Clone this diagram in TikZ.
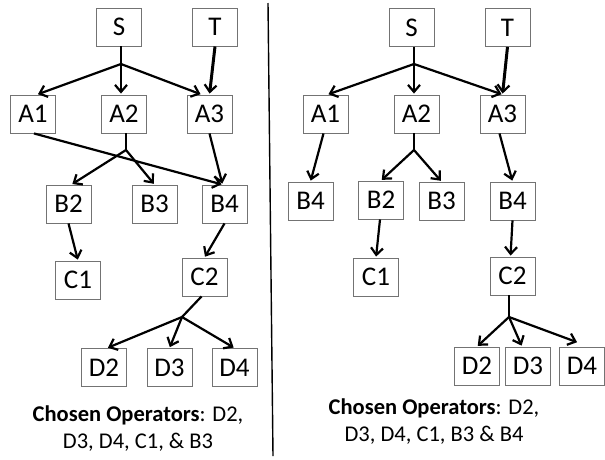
\documentclass[tikz,border=0pt]{standalone}
\usepackage{fontspec}
\setmainfont{Carlito}
\usetikzlibrary{arrows.meta,calc}

\begin{document}
\begin{tikzpicture}[x=1pt,y=-1pt,
  >={Straight Barb[length=7pt,width=12pt,line width=2.2pt]},
  line width=2.2pt,
  op node/.style={rectangle,draw=black!55,line width=0.9pt,minimum width=45pt,minimum height=38pt,
    inner sep=0pt,font=\fontsize{27}{30}\selectfont},
  caption/.style={align=center,font=\fontsize{22.5}{27}\selectfont},
  link/.style={->,shorten >=1pt}]

\useasboundingbox (0,0) rectangle (605,459);

% left plan
\node[op node] (lS) at (119,27) {S};
\node[op node] (lT) at (215,27) {T};
\node[op node] (lA1) at (33,114) {A1};
\node[op node] (lA2) at (124,114) {A2};
\node[op node] (lA3) at (209.5,114) {A3};
\node[op node] (lB2) at (68.5,204) {B2};
\node[op node] (lB3) at (154.5,204) {B3};
\node[op node] (lB4) at (224.5,204) {B4};
\node[op node] (lC1) at (78,280) {C1};
\node[op node] (lC2) at (204.5,277) {C2};
\node[op node] (lD2) at (104,367.5) {D2};
\node[op node] (lD3) at (169.5,367.5) {D3};
\node[op node] (lD4) at (234.5,367.5) {D4};
\coordinate (lj1) at (121,64);
\coordinate (lj2) at (126,150);
\coordinate (lj3) at (182,317);

\draw (lS.south -| lj1) -- (lj1);
\draw (lA2.south -| lj2) -- (lj2);
\draw ([xshift=-3pt]lC2.south) -- (lj3);
\path[link]
(lj1) edge ([xshift=4pt]lA1.north)
(lj1) edge (lA2.north -| lj1)
(lj1) edge ([xshift=-8pt]lA3.north)
(lT.south) edge[line width=3pt] (lA3.north)
([xshift=1pt]lA1.south) edge ([xshift=-2pt]lB4.north)
(lA3.south) edge ([xshift=-2pt]lB4.north)
(lj2) edge ([xshift=3pt]lB2.north)
(lj2) edge (lB3.north)
(lB2.south) edge (lC1.north)
(lB4.south) edge (lC2.north)
(lj3) edge ([xshift=3pt]lD2.north)
(lj3) edge (lD3.north)
(lj3) edge (lD4.north);

\node[caption] (lcap) at (138,429) {\textbf{Chosen Operators}: D2,\\ D3, D4, C1, \& B3};

% divider
\coordinate (top) at (268,3);
\coordinate (bot) at (273,456);
\draw[line width=1.4pt] (top) -- (bot);

% right plan
\node[op node] (rS) at (411.5,27.5) {S};
\node[op node] (rT) at (507.5,27.5) {T};
\node[op node] (rA1) at (325.5,114) {A1};
\node[op node] (rA2) at (416.5,114) {A2};
\node[op node] (rA3) at (502.5,114) {A3};
\node[op node] (rB4a) at (310.5,201) {B4};
\node[op node] (rB2) at (381,200) {B2};
\node[op node] (rB3) at (441.5,201) {B3};
\node[op node] (rB4) at (512.5,201) {B4};
\node[op node] (rC1) at (376,277) {C1};
\node[op node] (rC2) at (512.5,276) {C2};
\node[op node] (rD2) at (477,366) {D2};
\node[op node] (rD3) at (528,366) {D3};
\node[op node] (rD4) at (582,366) {D4};
\coordinate (rj1) at (414,64);
\coordinate (rj2) at (414,150);
\coordinate (rj3) at (509,317);

\draw (rS.south -| rj1) -- (rj1);
\draw (rA2.south -| rj2) -- (rj2);
\draw (rC2.south -| rj3) -- (rj3);
\path[link]
(rj1) edge ([xshift=2pt]rA1.north)
(rj1) edge (rA2.north -| rj1)
(rj1) edge (rA3.north)
(rT.south) edge[line width=3pt] (rA3.north)
([xshift=-2pt]rA1.south) edge (rB4a.north)
(rj2) edge (rB2.north)
(rj2) edge (rB3.north)
([xshift=-3pt]rA3.south) edge (rB4.north)
([xshift=-1pt]rB2.south) edge (rC1.north)
(rB4.south) edge ([xshift=-2pt]rC2.north)
(rj3) edge (rD2.north)
(rj3) edge ([xshift=-6pt]rD3.north)
(rj3) edge ([xshift=-4pt,yshift=4pt]rD4.north);

\node[caption] (rcap) at (434,422) {\textbf{Chosen Operators}: D2,\\ D3, D4, C1, B3 \& B4};

\end{tikzpicture}
\end{document}
